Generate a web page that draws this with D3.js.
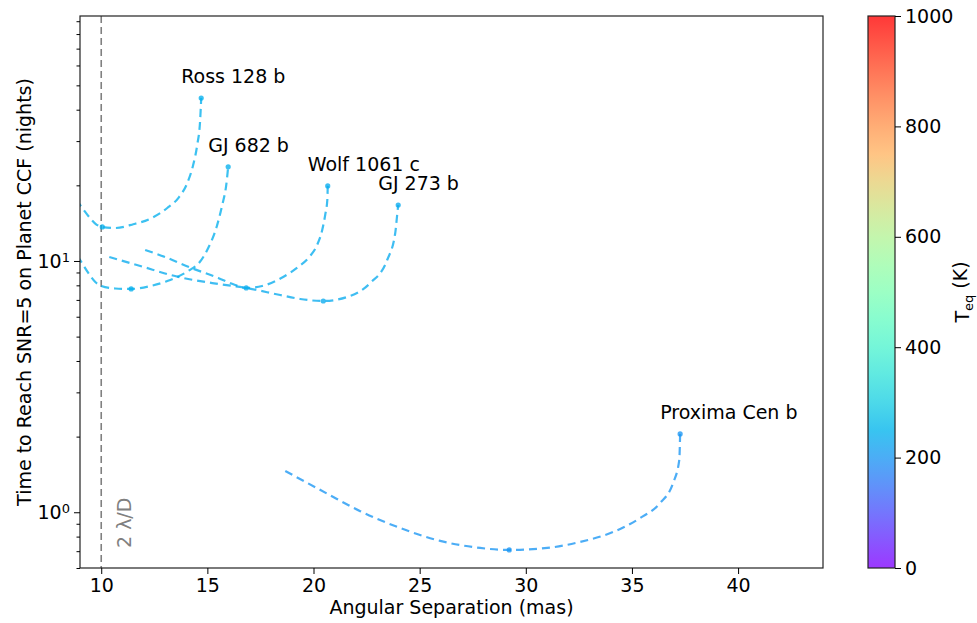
<!DOCTYPE html>
<html>
<head>
<meta charset="utf-8">
<script src="https://cdn.jsdelivr.net/npm/d3@7"></script>
<style>
  body { margin: 0; background: #fff; }
  svg text { font-family: "DejaVu Sans", sans-serif; fill: #000; }
</style>
</head>
<body>
<svg id="chart" width="977" height="623"></svg>
<script>
/* ---- data ---- */
const planets = ["Ross 128 b", "GJ 682 b", "Wolf 1061 c", "GJ 273 b", "Proxima Cen b"];
const teq = [240, 240, 236, 232, 200];

// angular separation (mas) and time to SNR=5 (nights) along each track
const sepRoss = [8.82, 9.11, 9.48, 9.76, 10.05, 10.66, 11.51, 12.36, 13.11, 13.63, 14.05, 14.33, 14.52, 14.66, 14.71];
const timeRoss = [17.5, 16.25, 14.8, 14.0, 13.66, 13.53, 14.0, 14.8, 16.25, 17.8, 20.4, 24.1, 28.9, 36.4, 44.5];

const sepGJ682 = [8.87, 9.06, 9.39, 9.72, 10.0, 10.66, 11.41, 12.31, 13.11, 14.10, 14.66, 15.04, 15.42, 15.70, 15.89, 15.98];
const timeGJ682 = [10.47, 9.91, 8.96, 8.25, 7.95, 7.77, 7.74, 7.95, 8.32, 9.13, 9.95, 11.26, 13.53, 16.7, 20.1, 23.7];

const sepWolf = [12.07, 13.01, 14.24, 15.51, 16.31, 16.83, 17.58, 18.57, 19.28, 19.80, 20.17, 20.41, 20.55, 20.65, 20.67];
const timeWolf = [11.06, 10.37, 9.38, 8.56, 8.02, 7.81, 7.95, 8.64, 9.47, 10.37, 11.58, 13.28, 15.24, 17.49, 19.9];

const sepGJ273 = [10.38, 11.84, 13.63, 15.51, 16.83, 18.43, 19.37, 20.46, 21.59, 22.67, 23.47, 23.85, 23.94, 23.99];
const timeGJ273 = [10.37, 9.55, 8.64, 8.10, 7.81, 7.32, 7.06, 6.93, 7.19, 8.17, 10.09, 12.92, 15.24, 16.7];

const sepProx = [18.67, 20.65, 22.20, 24.08, 25.97, 27.85, 29.22, 31.01, 32.56, 34.12, 35.39, 36.33, 36.94, 37.23, 37.27];
const timeProx = [1.46, 1.185, 1.01, 0.866, 0.769, 0.721, 0.708, 0.721, 0.762, 0.835, 0.949, 1.089, 1.308, 1.615, 2.049];

const trackSep = [sepRoss, sepGJ682, sepWolf, sepGJ273, sepProx];
const trackTime = [timeRoss, timeGJ682, timeWolf, timeGJ273, timeProx];
const minIdx = [4, 6, 5, 7, 6];   // marker at the bottom of each track

const xTicks = [10, 15, 20, 25, 30, 35, 40];
const cbarTicks = [0, 200, 400, 600, 800, 1000];
const iwa = 10;   // 2 lambda/D

/* ---- layout ---- */
const margin = { top: 16, left: 80 };
const width = 743, height = 552;
const cbar = { x: 868, w: 27 };

const svg = d3.select("#chart");
const g = svg.append("g").attr("transform", `translate(${margin.left},${margin.top})`);

const x = d3.scaleLinear().domain([9, 44]).range([0, width]);
const y = d3.scaleLog().domain([0.6, 94.4]).range([height, 0]);
const c = d3.scaleLinear().domain([0, 1000]).range([height, 0]);

// matplotlib "rainbow"
const rainbow = t => d3.rgb(
  255 * Math.min(1, Math.abs(2 * t - 0.5)),
  255 * Math.sin(Math.PI * t),
  255 * Math.cos(Math.PI * t / 2)
);
const alpha = 0.78;

svg.append("defs").append("clipPath").attr("id", "plotClip")
  .append("rect").attr("width", width).attr("height", height);

// 2 lambda/D line
g.append("line")
  .attr("x1", x(iwa)).attr("x2", x(iwa))
  .attr("y1", 0).attr("y2", height)
  .attr("stroke", "#808080").attr("stroke-width", 1.6)
  .attr("stroke-dasharray", "7,4");

g.append("text")
  .attr("transform", `translate(${x(iwa) + 30},${height - 20}) rotate(-90)`)
  .style("fill", "#808080").style("font-size", "19px")
  .text("2 \u03bb/D");

const line = d3.line().x(d => x(d[0])).y(d => y(d[1])).curve(d3.curveMonotoneX);

const tracks = g.append("g").attr("clip-path", "url(#plotClip)");
planets.forEach((name, i) => {
  const pts = trackSep[i].map((s, k) => [s, trackTime[i][k]]);
  const col = rainbow(teq[i] / 1000);
  tracks.append("path")
    .datum(pts)
    .attr("d", line)
    .attr("fill", "none")
    .attr("stroke", col).attr("stroke-opacity", alpha)
    .attr("stroke-width", 2.2)
    .attr("stroke-dasharray", "8,5");

  const last = pts[pts.length - 1];
  [pts[minIdx[i]], last].forEach(p => {
    tracks.append("circle")
      .attr("cx", x(p[0])).attr("cy", y(p[1])).attr("r", 2.6)
      .attr("fill", col).attr("fill-opacity", alpha);
  });

  g.append("text")
    .attr("x", x(last[0]) - 20)
    .attr("y", y(last[1]) - 15)
    .style("font-size", "19px")
    .text(name);
});

// frame
g.append("rect").attr("width", width).attr("height", height)
  .attr("fill", "none").attr("stroke", "#222").attr("stroke-width", 1.2);

// x axis
const xAxis = g.append("g").attr("transform", `translate(0,${height})`)
  .call(d3.axisBottom(x).tickValues(xTicks).tickSize(6).tickPadding(5).tickFormat(d3.format("d")));
xAxis.select(".domain").remove();
xAxis.selectAll("text").style("font-size", "19px");

g.append("text")
  .attr("x", width / 2).attr("y", height + 46)
  .attr("text-anchor", "middle").style("font-size", "19px")
  .text("Angular Separation (mas)");

// y axis, log: majors with superscript labels, plus minors
const majors = [1, 10];
const minors = [];
[0.1, 1, 10].forEach(dec => {
  for (let m = 2; m <= 9; m++) {
    const v = dec * m;
    if (v >= 0.6 && v <= 94.4 && !majors.includes(v)) minors.push(v);
  }
});

const yMinor = g.append("g").call(d3.axisLeft(y).tickValues(minors).tickSize(3.5).tickFormat(""));
yMinor.select(".domain").remove();

const yAxis = g.append("g")
  .call(d3.axisLeft(y).tickValues(majors).tickSize(6).tickPadding(5).tickFormat(""));
yAxis.select(".domain").remove();
yAxis.selectAll(".tick").append("text")
  .attr("x", -10).attr("dy", "0.32em")
  .attr("text-anchor", "end").style("font-size", "19px")
  .each(function (d) {
    const t = d3.select(this);
    t.append("tspan").text("10");
    t.append("tspan").attr("dy", "-0.45em").style("font-size", "13px").text(Math.round(Math.log10(d)));
  });

g.append("text")
  .attr("transform", `translate(${31 - margin.left},${height / 2}) rotate(-90)`)
  .attr("text-anchor", "middle").style("font-size", "19px")
  .text("Time to Reach SNR=5 on Planet CCF (nights)");

// colorbar
const grad = svg.select("defs").append("linearGradient")
  .attr("id", "cbarGrad").attr("x1", 0).attr("y1", 1).attr("x2", 0).attr("y2", 0);
d3.range(0, 1.0001, 0.05).forEach(t => {
  grad.append("stop").attr("offset", t).attr("stop-color", rainbow(t)).attr("stop-opacity", alpha);
});

const cb = svg.append("g").attr("transform", `translate(${cbar.x},${margin.top})`);
cb.append("rect").attr("width", cbar.w).attr("height", height)
  .attr("fill", "url(#cbarGrad)").attr("stroke", "#222").attr("stroke-width", 1.2);

const cAxis = cb.append("g").attr("transform", `translate(${cbar.w},0)`)
  .call(d3.axisRight(c).tickValues(cbarTicks).tickSize(6).tickPadding(4).tickFormat(d3.format("d")));
cAxis.select(".domain").remove();
cAxis.selectAll("text").style("font-size", "19px");

const cLabel = svg.append("text")
  .attr("transform", `translate(969,${margin.top + height / 2}) rotate(-90)`)
  .attr("text-anchor", "middle").style("font-size", "19px");
cLabel.append("tspan").text("T");
cLabel.append("tspan").attr("dy", "0.3em").style("font-size", "13px").text("eq");
cLabel.append("tspan").attr("dy", "-0.3em").text(" (K)");
</script>
</body>
</html>
